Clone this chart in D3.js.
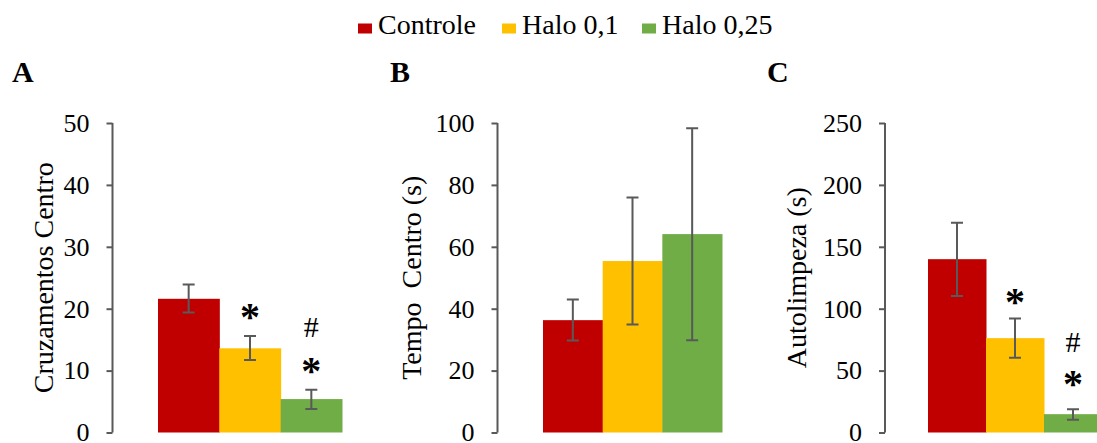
<!DOCTYPE html>
<html>
<head>
<meta charset="utf-8">
<script src="https://cdn.jsdelivr.net/npm/d3@7"></script>
<style>
  body { margin: 0; background: #fff; }
  svg text { font-family: "Liberation Serif", "Times New Roman", serif; }
</style>
</head>
<body>
<div id="chart"></div>
<script>
// groups + colours
const groups = ["Controle", "Halo 0,1", "Halo 0,25"];
const colors = ["#C00000", "#FFC000", "#70AD47"];

// panel A - Cruzamentos Centro
const meanA = [21.6, 13.6, 5.4];
const hiA = [23.9, 15.6, 6.9];
const loA = [19.4, 11.7, 3.8];
const ticksA = [0, 10, 20, 30, 40, 50];

// panel B - Tempo Centro (s)
const meanB = [36.3, 55.4, 64.1];
const hiB = [43.0, 75.9, 98.3];
const loB = [29.7, 34.9, 29.8];
const ticksB = [0, 20, 40, 60, 80, 100];

// panel C - Autolimpeza (s)
const meanC = [140, 76.2, 14.8];
const hiC = [169.4, 92.1, 18.8];
const loC = [110.2, 60.3, 10.2];
const ticksC = [0, 50, 100, 150, 200, 250];

// significance marks: [group, symbol, value level it sits at]
const marksA = [["Halo 0,1", "*", 20.1], ["Halo 0,25", "*", 11.4], ["Halo 0,25", "#", 17.1]];
const marksB = [];
const marksC = [["Halo 0,1", "*", 112.6], ["Halo 0,25", "*", 46.3], ["Halo 0,25", "#", 73.2]];

const width = 1097;
const height = 443;
const plotTop = 123;
const plotBottom = 432.5;
const serif = "'Liberation Serif', 'Times New Roman', serif";

const panels = [
  { letter: "A", title: "Cruzamentos Centro", mean: meanA, hi: hiA, lo: loA, ticks: ticksA, marks: marksA,
    axisX: 112.5, bar0: 158, bar1: 342, letterX: 12, titleX: 53 },
  { letter: "B", title: "Tempo\u00A0 Centro (s)", mean: meanB, hi: hiB, lo: loB, ticks: ticksB, marks: marksB,
    axisX: 497.5, bar0: 543, bar1: 722, letterX: 390, titleX: 421 },
  { letter: "C", title: "Autolimpeza (s)", mean: meanC, hi: hiC, lo: loC, ticks: ticksC, marks: marksC,
    axisX: 885, bar0: 928, bar1: 1102, letterX: 767, titleX: 806 }
];

const svg = d3.select("#chart")
  .append("svg")
  .attr("width", width)
  .attr("height", height)
  .attr("viewBox", [0, 0, width, height]);

// legend
const legendX = [358, 502, 642];
const leg = svg.append("g").selectAll("g").data(groups).join("g")
  .attr("transform", (d, i) => `translate(${legendX[i]},0)`);
leg.append("rect")
  .attr("x", 0).attr("y", 23.5).attr("width", 14).attr("height", 10)
  .attr("fill", (d, i) => colors[i]);
leg.append("text")
  .attr("x", 20).attr("y", 34)
  .style("font-family", serif)
  .style("font-size", "28px")
  .attr("fill", "#000")
  .text(d => d);

panels.forEach(p => {
  const y = d3.scaleLinear()
    .domain([0, d3.max(p.ticks)])
    .range([plotBottom, plotTop]);

  const x = d3.scaleBand()
    .domain(groups)
    .range([p.bar0, p.bar1])
    .padding(0);

  const g = svg.append("g");

  // panel letter
  g.append("text")
    .attr("x", p.letterX).attr("y", 82)
    .style("font-family", serif)
    .style("font-size", "30px")
    .style("font-weight", "bold")
    .text(p.letter);

  // bars
  g.append("g").selectAll("rect").data(groups).join("rect")
    .attr("x", d => x(d))
    .attr("width", x.bandwidth() + 0.5)
    .attr("y", (d, i) => y(p.mean[i]))
    .attr("height", (d, i) => y(0) - y(p.mean[i]))
    .attr("fill", (d, i) => colors[i]);

  // error bars
  g.append("g")
    .attr("stroke", "#595959")
    .attr("stroke-width", 2)
    .attr("fill", "none")
    .selectAll("path").data(groups).join("path")
    .attr("d", (d, i) => {
      const cx = x(d) + x.bandwidth() / 2;
      const path = d3.path();
      path.moveTo(cx, y(p.hi[i]));
      path.lineTo(cx, y(p.lo[i]));
      path.moveTo(cx - 6, y(p.hi[i]));
      path.lineTo(cx + 6, y(p.hi[i]));
      path.moveTo(cx - 6, y(p.lo[i]));
      path.lineTo(cx + 6, y(p.lo[i]));
      return path;
    });

  // significance marks
  g.append("g").selectAll("text").data(p.marks).join("text")
    .attr("x", d => x(d[0]) + x.bandwidth() / 2)
    .attr("y", d => y(d[2]) + (d[1] === "*" ? 22 : 10))
    .attr("text-anchor", "middle")
    .style("font-family", serif)
    .style("font-size", d => d[1] === "*" ? "40px" : "30px")
    .style("font-weight", d => d[1] === "*" ? "bold" : "normal")
    .text(d => d[1]);

  // y axis
  const axis = g.append("g")
    .attr("transform", `translate(${p.axisX},0)`)
    .call(d3.axisLeft(y).tickValues(p.ticks).tickSize(6).tickSizeOuter(0).tickPadding(17));
  axis.select(".domain").attr("stroke", "#595959").attr("stroke-width", 2)
    .attr("d", `M0,${plotTop}V${plotBottom}`);
  axis.selectAll(".tick line").attr("stroke", "#595959").attr("stroke-width", 2);
  axis.selectAll(".tick text")
    .style("font-family", serif)
    .style("font-size", "26px")
    .attr("fill", "#000");

  // axis title
  g.append("text")
    .attr("transform", `translate(${p.titleX},${(plotTop + plotBottom) / 2}) rotate(-90)`)
    .attr("text-anchor", "middle")
    .style("font-family", serif)
    .style("font-size", "28px")
    .attr("fill", "#000")
    .text(p.title);
});
</script>
</body>
</html>
